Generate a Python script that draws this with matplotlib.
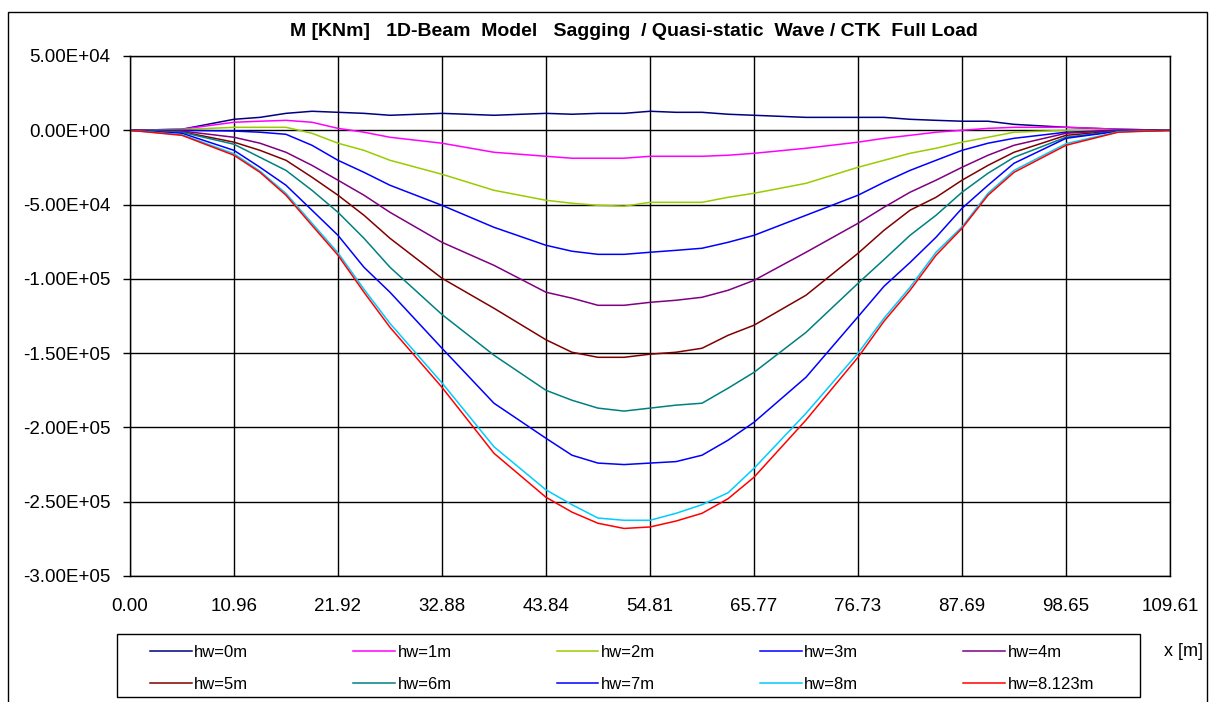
import matplotlib
matplotlib.use("Agg")
import matplotlib.pyplot as plt
from matplotlib.ticker import FuncFormatter
from matplotlib.patches import Rectangle

plt.rcParams['font.family'] = ['Liberation Sans', 'DejaVu Sans']

# stations along the beam [m]
x_m = [0.00, 5.48, 10.96, 13.70, 16.44, 19.18, 21.92, 24.66, 27.40, 32.88, 38.36,
       43.84, 46.58, 49.32, 52.07, 54.81, 57.55, 60.29, 63.03, 65.77, 71.25,
       76.73, 79.47, 82.21, 84.95, 87.69, 90.43, 93.17, 98.65, 104.13, 109.61]

x_ticks = [0.00, 10.96, 21.92, 32.88, 43.84, 54.81, 65.77, 76.73, 87.69, 98.65, 109.61]
y_ticks = [5e4, 0, -5e4, -1e5, -1.5e5, -2e5, -2.5e5, -3e5]

# bending moment [kNm] per wave height
hw0 = [0, 700, 7400, 8700, 11400, 12800, 12100, 11400, 10100, 11400, 10100,
       11400, 10800, 11400, 11400, 12800, 12100, 12100, 10800, 10100, 8700,
       8700, 8700, 7400, 6700, 6100, 6100, 4000, 2000, 700, 0]
hw1 = [0, 700, 5400, 6100, 6700, 5400, 1300, -1300, -4700, -8700, -14800,
       -17500, -18800, -18800, -18800, -17500, -17500, -17500, -16800, -15500, -12100,
       -8000, -5400, -3400, -1300, 0, 1300, 2000, 2000, 700, 0]
hw2 = [0, 500, 2000, 2000, 2000, -2000, -8700, -13500, -20200, -29600, -40400,
       -47100, -49100, -50500, -51100, -48500, -48500, -48500, -45100, -42400, -35700,
       -24900, -20200, -15500, -12100, -8000, -4700, -1300, 0, 0, 0]
hw3 = [0, 0, -500, -1300, -2700, -10100, -20200, -28300, -37000, -50500, -65300,
       -77400, -81400, -83500, -83500, -82100, -80800, -79400, -75400, -70700, -57200,
       -43700, -35000, -27000, -20200, -13500, -8700, -5400, -1300, 0, 0]
hw4 = [0, -500, -4700, -8700, -14800, -23600, -33600, -43700, -55200, -75400, -90900,
       -109000, -113000, -117800, -117800, -115800, -114400, -112400, -107700, -101000, -82100,
       -62600, -51800, -41700, -33600, -24900, -16800, -10100, -2000, 0, 0]
hw5 = [0, -1000, -8000, -13500, -20200, -31600, -43700, -57200, -72700, -99600, -119800,
       -141000, -149400, -152800, -152800, -150700, -149400, -146700, -138000, -131200, -111000,
       -82800, -67300, -53800, -45100, -33600, -23600, -14800, -3400, -300, 0]
hw6 = [0, -1300, -9400, -18200, -27000, -40400, -55200, -72700, -92200, -124000, -151400,
       -175000, -181700, -187000, -189000, -187000, -185000, -183700, -173600, -162900, -136000,
       -103000, -87000, -70700, -57200, -41700, -28900, -18200, -4700, -500, 0]
hw7 = [0, -2000, -13500, -24900, -37000, -53800, -70700, -92200, -109000, -146700, -183700,
       -207300, -218700, -224000, -225000, -224000, -223000, -218700, -208600, -196500, -166200,
       -125500, -105000, -89000, -72000, -52500, -37000, -22200, -5400, -700, 0]
hw8 = [0, -3000, -15800, -27500, -42500, -62500, -82500, -107000, -130000, -170000, -213000,
       -242000, -252000, -261000, -262500, -262500, -257800, -252000, -244000, -227500, -190500,
       -150000, -126500, -105700, -82100, -65000, -42400, -27000, -9000, -1000, 0]
hw8123 = [0, -3400, -16800, -28300, -43700, -64000, -84100, -109000, -132600, -173000, -217400,
          -247000, -257000, -264500, -268000, -267000, -263000, -257800, -248000, -233500, -195000,
          -152800, -128500, -107700, -84100, -66000, -43700, -28300, -10100, -1300, 0]

series = [
    ('hw=0m', hw0, '#000080'),
    ('hw=1m', hw1, '#FF00FF'),
    ('hw=2m', hw2, '#99CC00'),
    ('hw=3m', hw3, '#0000FF'),
    ('hw=4m', hw4, '#800080'),
    ('hw=5m', hw5, '#800000'),
    ('hw=6m', hw6, '#008080'),
    ('hw=7m', hw7, '#0000FF'),
    ('hw=8m', hw8, '#00CCFF'),
    ('hw=8.123m', hw8123, '#FF0000'),
]

W, H = 1215, 702
fig = plt.figure(figsize=(W / 100, H / 100), dpi=100)
ax = fig.add_axes([130 / W, 1 - 576 / H, 1040 / W, 520 / H])

lines = []
for label, vals, col in series:
    ln, = ax.plot(x_m, vals, color=col, lw=1.1, label=label)
    lines.append(ln)

ax.set_xlim(0, 109.61)
ax.set_ylim(-3e5, 5e4)
ax.set_xticks(x_ticks)
ax.set_xticklabels(['%.2f' % v for v in x_ticks])
ax.set_yticks(y_ticks)
ax.yaxis.set_major_formatter(FuncFormatter(lambda v, p: '%.2E' % v))
ax.grid(True, color='black', lw=1.0)
ax.set_axisbelow(True)
ax.tick_params(axis='y', length=5, width=1, labelsize=13.5, pad=9, colors='black')
ax.tick_params(axis='x', length=0, labelsize=13.5, pad=16)
for s in ax.spines.values():
    s.set_linewidth(1.0)
    s.set_color('black')

fig.text(634 / W, 1 - 32 / H,
         'M [KNm]   1D-Beam  Model   Sagging  / Quasi-static  Wave / CTK  Full Load',
         ha='center', va='center', fontsize=14, fontweight='bold')

# legend filled row by row, as in the sheet
order = [0, 5, 1, 6, 2, 7, 3, 8, 4, 9]
leg = fig.legend(handles=[lines[i] for i in order], ncol=5, loc='upper left',
                 bbox_to_anchor=(150 / W, 1 - 645 / H), frameon=False,
                 fontsize=12, handlelength=2.5, handletextpad=0.15,
                 columnspacing=6.3, labelspacing=1.0, borderpad=0, borderaxespad=0)

fig.patches.append(Rectangle((117 / W, 1 - 697 / H), 1023 / W, 63 / H,
                             transform=fig.transFigure, fill=False,
                             edgecolor='black', lw=1.0))

fig.text(1183 / W, 1 - 651 / H, 'x [m]', ha='center', va='center', fontsize=13)

fig.patches.append(Rectangle((8 / W, -0.05), 1199 / W, 1.05 - 12 / H,
                             transform=fig.transFigure, fill=False,
                             edgecolor='black', lw=1.0))

fig.savefig('out.png', dpi=100)
